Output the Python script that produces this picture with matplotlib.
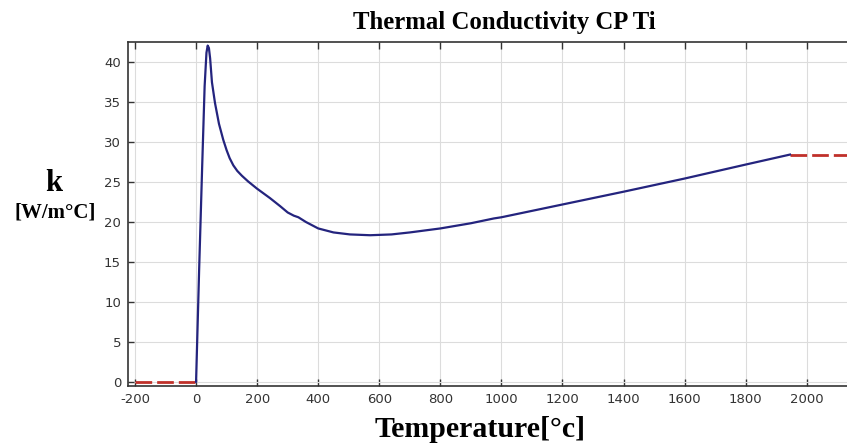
import matplotlib
matplotlib.use("Agg")
import matplotlib.pyplot as plt

plt.rcParams["axes.unicode_minus"] = False

# Thermal conductivity of CP titanium
temp_c = [0, 10, 20, 28, 34, 38, 42, 46, 52, 62, 75, 89, 100, 110, 122, 135,
          150, 170, 199, 242, 275, 300, 320, 335, 360, 400, 450, 504, 570,
          640, 700, 800, 900, 975, 1000, 1200, 1400, 1600, 1800, 1945]
k_vals = [0, 14.0, 27.0, 37.0, 41.2, 42.1, 41.8, 40.5, 37.5, 34.9, 32.3, 30.3,
          29.0, 28.0, 27.1, 26.4, 25.8, 25.1, 24.2, 23.0, 22.0, 21.2, 20.8,
          20.6, 20.0, 19.2, 18.7, 18.45, 18.35, 18.45, 18.7, 19.2, 19.85,
          20.45, 20.6, 22.2, 23.8, 25.45, 27.2, 28.45]

# constant extrapolation outside the data range
left_temp = [-200, 0]
left_k = [0, 0]
right_temp = [1945, 2200]
right_k = [28.45, 28.45]

x_ticks = [-200, 0, 200, 400, 600, 800, 1000, 1200, 1400, 1600, 1800, 2000]
y_ticks = [0, 5, 10, 15, 20, 25, 30, 35, 40]

fig = plt.figure(figsize=(8.47, 4.47), dpi=100)
ax = fig.add_axes([0.1511, 0.137, 0.849, 0.770])

ax.plot(left_temp, left_k, color="#c0302a", linewidth=2, dashes=(6, 1.8))
ax.plot(right_temp, right_k, color="#c0302a", linewidth=2, dashes=(6, 1.8))
ax.plot(temp_c, k_vals, color="#24247e", linewidth=1.6)

ax.set_xlim(-223, 2132)
ax.set_ylim(-0.5, 42.6)
ax.set_xticks(x_ticks)
ax.set_yticks(y_ticks)
ax.grid(True, color="#dcdcdc", linewidth=0.8)
ax.set_axisbelow(True)

ax.tick_params(axis="x", direction="in", top=True, length=5, width=1,
               labelsize=9.5, labelcolor="#333333", colors="#333333", pad=5)
ax.tick_params(axis="y", direction="in", length=4, width=1,
               labelsize=9.5, labelcolor="#333333", colors="#333333", pad=5)
for side in ["left", "bottom", "top"]:
    ax.spines[side].set_color("#333333")
    ax.spines[side].set_linewidth(1.2)
ax.spines["right"].set_visible(False)

serif = ["Liberation Serif", "DejaVu Serif"]
fig.text(0.596, 0.950, "Thermal Conductivity CP Ti", ha="center", va="center",
         fontsize=17.8, fontweight="bold", family=serif)
fig.text(0.567, 0.040, "Temperature[°c]", ha="center", va="center",
         fontsize=21.5, fontweight="bold", family=serif)
fig.text(0.063, 0.589, "k", ha="center", va="center",
         fontsize=22, fontweight="bold", family=serif)
fig.text(0.065, 0.525, "[W/m°C]", ha="center", va="center",
         fontsize=15, fontweight="bold", family=serif)

fig.savefig("out.png", dpi=100)
